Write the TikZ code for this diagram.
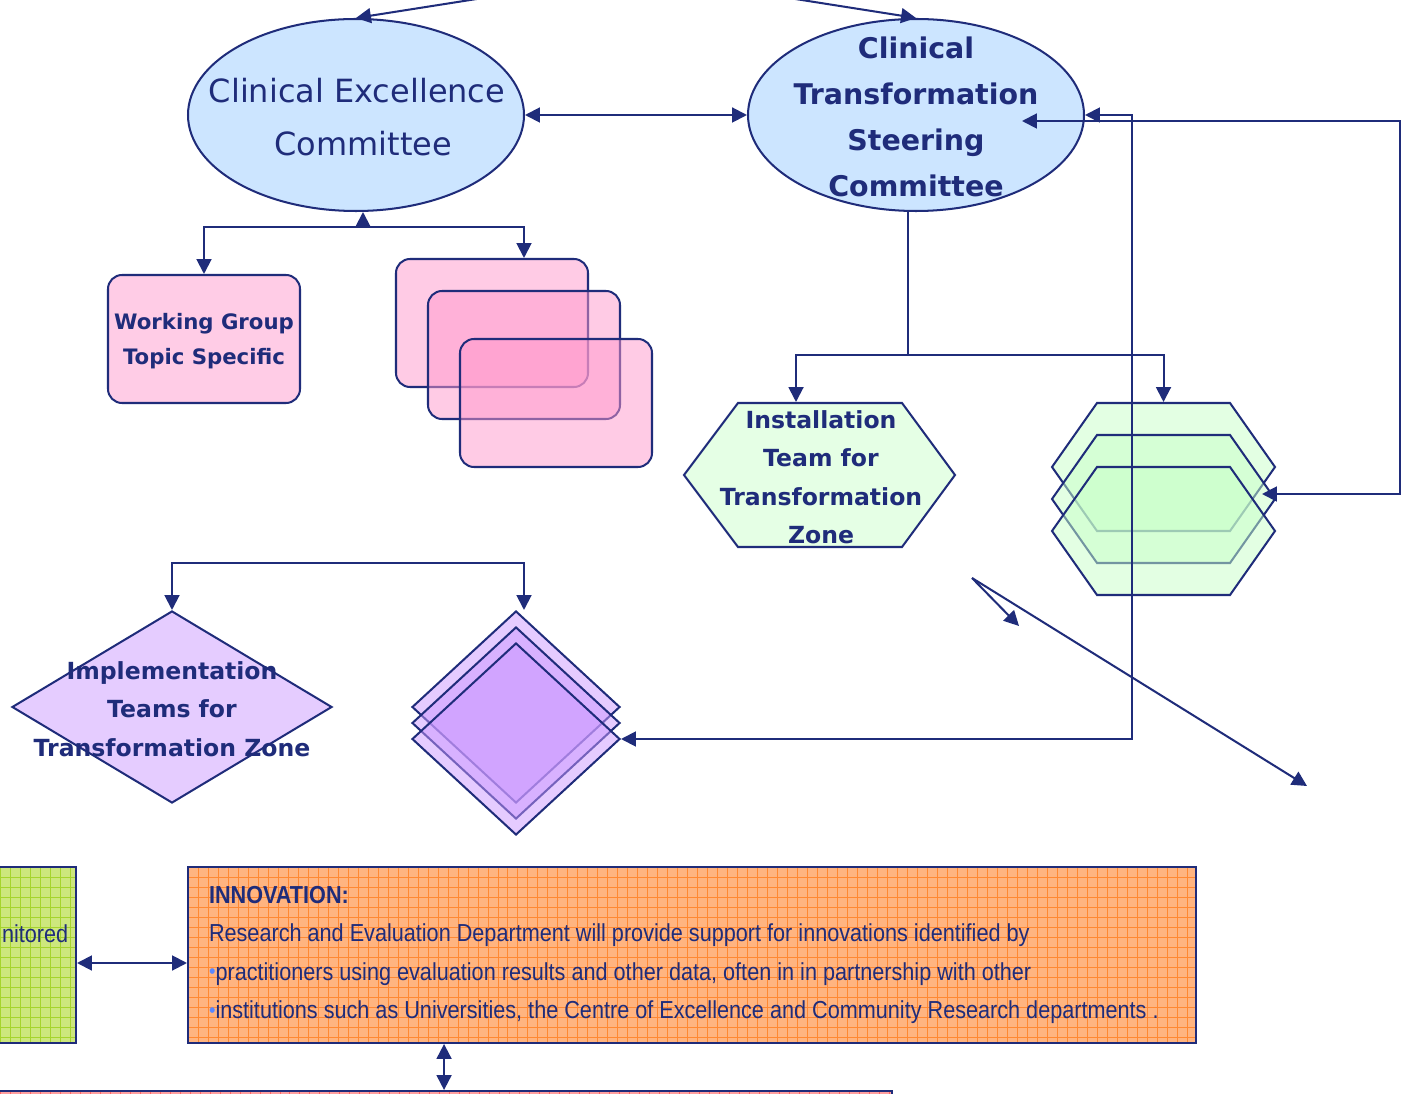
\documentclass[tikz,border=0pt]{standalone}
\usepackage{fontspec}
\setmainfont{DejaVu Sans}
\newfontfamily\narrowfont[FakeStretch=0.88]{Liberation Sans}
\usetikzlibrary{shapes.geometric,arrows.meta,calc}
\definecolor{navy}{RGB}{31,44,122}
\definecolor{ellblue}{RGB}{204,229,255}
\definecolor{wgpink}{RGB}{255,204,230}
\definecolor{stackpink}{RGB}{255,153,204}
\definecolor{instgreen}{RGB}{229,255,229}
\definecolor{stackgreen}{RGB}{200,255,200}
\definecolor{lav}{RGB}{229,204,255}
\definecolor{stacklav}{RGB}{204,153,255}
\definecolor{orangefill}{RGB}{255,180,128}
\definecolor{orangeline}{RGB}{255,136,50}
\definecolor{limefill}{RGB}{205,231,125}
\definecolor{limeline}{RGB}{166,212,45}
\definecolor{redfill}{RGB}{255,160,160}
\definecolor{redline}{RGB}{255,100,100}
\definecolor{bulblue}{RGB}{90,135,255}
\newcommand\bul{{\color{bulblue}\raisebox{0.05em}{\fontsize{12}{12}\selectfont •}}}
\begin{document}
\begin{tikzpicture}[x=0.02cm,y=-0.02cm,line width=1.15pt,color=navy,
  >={Triangle[length=8.5pt,width=8.5pt]},
  ell/.style={ellipse,draw=navy,fill=ellblue,inner sep=0pt,minimum width=336*0.02cm,minimum height=192*0.02cm},
  txt/.style={text=navy,align=center,inner sep=0pt,draw=none},
  rbox/.style={rectangle,rounded corners=8pt,draw=navy,inner sep=0pt,minimum width=192*0.02cm,minimum height=128*0.02cm},
  stackbox/.style={rbox,fill=stackpink,fill opacity=0.5,text opacity=1},
  hexshape/.style={draw=navy,fill=instgreen,line join=miter},
  stackhex/.style={draw=navy,fill=stackgreen,fill opacity=0.5},
  anchorbox/.style={rectangle,draw=none,inner sep=0pt},
  dia/.style={diamond,draw=navy,inner sep=0pt},
  stackdia/.style={dia,fill=stacklav,fill opacity=0.5,minimum width=208*0.02cm,minimum height=192*0.02cm},
  gbox/.style={rectangle,draw=navy,inner sep=0pt,fill=#1},
  gridlines/.style={path picture={
     \foreach \i in {0,...,104}{\draw[draw=#1,line width=0.5pt] ([xshift=\i*0.2cm]path picture bounding box.north west) -- ([xshift=\i*0.2cm]path picture bounding box.south west);}
     \foreach \j in {0,...,20}{\draw[draw=#1,line width=0.5pt] ([yshift=-\j*0.2cm]path picture bounding box.north west) -- ([yshift=-\j*0.2cm]path picture bounding box.north east);}}}
]
\useasboundingbox (0,0) rectangle (1406,1094);
\fill[white] (0,0) rectangle (1406,1094);
\clip (0,0) rectangle (1406,1094);

% ellipses
\node[ell] (cec) at (356,115) {};
\node[txt,font=\fontsize{18.2}{30.2}\selectfont] (cectext) at (357,117) {Clinical Excellence\\\hspace*{0.4em}Committee};
\node[ell] (ctsc) at (916,115) {};
\node[txt,font=\bfseries\fontsize{16.2}{26.2}\selectfont] (ctsctext) at (916,117) {Clinical\\Transformation\\Steering\\Committee};

% working group
\node[rbox,fill=wgpink] (wg) at (204,339) {};
\node[txt,font=\bfseries\fontsize{12.1}{19.9}\selectfont] (wgtext) at (204,341) {Working Group\\Topic Specific};

% pink stack
\node[stackbox] (pa) at (492,323) {};
\node[stackbox] (pb) at (524,355) {};
\node[stackbox] (pc) at (556,403) {};

% installation hexagon
\draw[hexshape] (738,403) -- (902,403) -- (955,475) -- (902,547) -- (738,547) -- (684,475) -- cycle;
\node[anchorbox,minimum width=271*0.02cm,minimum height=144*0.02cm] (inst) at (820,475) {};
\node[txt,font=\bfseries\fontsize{13.4}{21.9}\selectfont] (insttext) at (821,477) {Installation\\Team for\\Transformation\\Zone};

% green hex stack
\foreach \k in {0,32,64}{
  \draw[stackhex] (1097,403+\k) -- (1230,403+\k) -- (1275,467+\k) -- (1230,531+\k) -- (1097,531+\k) -- (1052,467+\k) -- cycle;
}
\node[anchorbox,minimum width=223*0.02cm,minimum height=128*0.02cm] (hexa) at (1163.5,467) {};

% implementation diamond
\node[dia,fill=lav,minimum width=320*0.02cm,minimum height=192*0.02cm] (impl) at (172,707) {};
\node[txt,font=\bfseries\fontsize{13.4}{21.9}\selectfont] (impltext) at (172,709) {Implementation\\Teams for\\Transformation Zone};

% diamond stack
\node[stackdia] (da) at (516,707) {};
\node[stackdia] (db) at (516,723) {};
\node[stackdia] (dc) at (516,739) {};

% bottom boxes
\node[gbox=limefill,gridlines=limeline,minimum width=96*0.02cm,minimum height=176*0.02cm] (lime) at (28,955) {};
\node[txt,anchor=west,font=\narrowfont\fontsize{14}{22}\selectfont] (limetext) at (1,934) {nitored};
\node[gbox=orangefill,gridlines=orangeline,minimum width=1008*0.02cm,minimum height=176*0.02cm] (innov) at (692,955) {};
\node[txt,anchor=north west,align=left,font=\narrowfont\fontsize{14}{21.9}\selectfont] (innovtext) at (208,885) {\textbf{INNOVATION:}\\Research and Evaluation Department will provide support for innovations identified by\\\bul practitioners using evaluation results and other data, often in in partnership with other\\\bul institutions such as Universities, the Centre of Excellence and Community Research departments .};
\node[gbox=redfill,gridlines=redline,minimum width=912*0.02cm,minimum height=60*0.02cm] (red) at (436,1121) {};

% connectors
\coordinate (t1) at (483,-2);
\coordinate (t2) at (789,-2);
\draw[->] (t1) -- (cec.north);
\draw[->] (t2) -- (ctsc.north);
\draw[<->] (cec.east) -- (ctsc.west);

\coordinate (j1) at (363,227);
\draw[<->] (cec.south -| j1) -- (j1) -| (wg.north);
\draw[->] (j1) -| ([xshift=0.64cm]pa.north);

\coordinate (j2) at (908,355);
\draw (ctsc.south -| j2) -- (j2);
\draw[->] (j2) -| ([xshift=-0.48cm]inst.north);
\draw[->] (j2) -| (hexa.north);

\coordinate (k1) at (1132,115);
\coordinate (k2) at (1132,739);
\draw[<->] (ctsc.east) -- (k1) -- (k2) -- (dc.east);

\coordinate (ctscin) at (1022,121);
\coordinate (r1) at (1400,121);
\coordinate (r2) at (1400,494);
\coordinate (hexin) at (1262,494);
\draw[<->] (ctscin) -- (r1) -- (r2) -- (hexin);

\coordinate (d0) at (972,578);
\coordinate (d1) at (1019,626);
\coordinate (d2) at (1307,786);
\draw[->] (d0) -- (d1);
\draw[->] (d0) -- (d2);

\coordinate (j3) at (172,563);
\draw[<->] (impl.north) -- (j3) -| ([xshift=0.16cm]da.north);

\draw[<->] ([yshift=-0.16cm]lime.east) -- ([yshift=-0.16cm]innov.west);
\draw[<->] ([xshift=-4.96cm]innov.south) -- ([xshift=-4.96cm]innov.south |- red.north);
\end{tikzpicture}
\end{document}
